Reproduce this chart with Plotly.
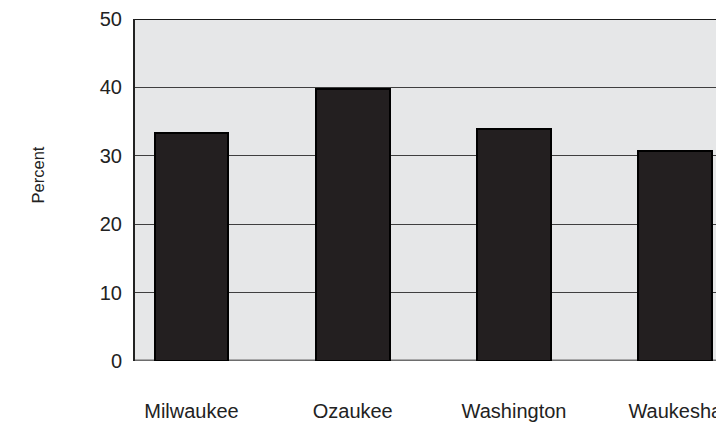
import plotly.graph_objects as go

counties = ["Milwaukee", "Ozaukee", "Washington", "Waukesha"]
percent = [33.4, 39.8, 33.9, 30.7]
y_ticks = [0, 10, 20, 30, 40, 50]

FONT = "Liberation Sans, Arial, sans-serif"

fig = go.Figure()
fig.add_trace(go.Bar(
    x=counties, y=percent, width=0.458,
    marker=dict(color="#231F20", line=dict(color="#000000", width=2)),
    showlegend=False,
))

fig.update_layout(
    width=716, height=416,
    margin=dict(l=127, r=0, t=11, b=63),
    paper_bgcolor="white", plot_bgcolor="#E6E7E8",
    font=dict(family=FONT, size=20, color="#222222"),
    bargap=0,
)
fig.update_xaxes(
    type="category", range=[-0.35, 3.302],
    showgrid=False, showline=False, zeroline=False,
    ticks="", ticklabelstandoff=36,
    tickfont=dict(size=20),
)
fig.update_yaxes(
    range=[0, 50], tickvals=y_ticks,
    showgrid=True, gridcolor="#3f3f3f", gridwidth=1,
    zeroline=False, showline=True, linecolor="#222222", linewidth=2,
    ticks="", ticklabelstandoff=7,
    tickfont=dict(size=20),
)
fig.add_annotation(
    text="Percent", textangle=-90, showarrow=False,
    xref="paper", yref="paper", x=-0.165, y=0.545,
    xanchor="center", yanchor="middle",
    font=dict(size=16.5, color="#222222"),
)
# top border and zero baseline
fig.add_shape(type="line", xref="paper", yref="y", x0=0, x1=1, y0=50, y1=50,
              line=dict(color="#1a1a1a", width=2), layer="above")
fig.add_shape(type="line", xref="paper", yref="y", x0=0, x1=1, y0=0, y1=0,
              line=dict(color="#6d6d6d", width=3), layer="below")

fig.write_html("out.html")
